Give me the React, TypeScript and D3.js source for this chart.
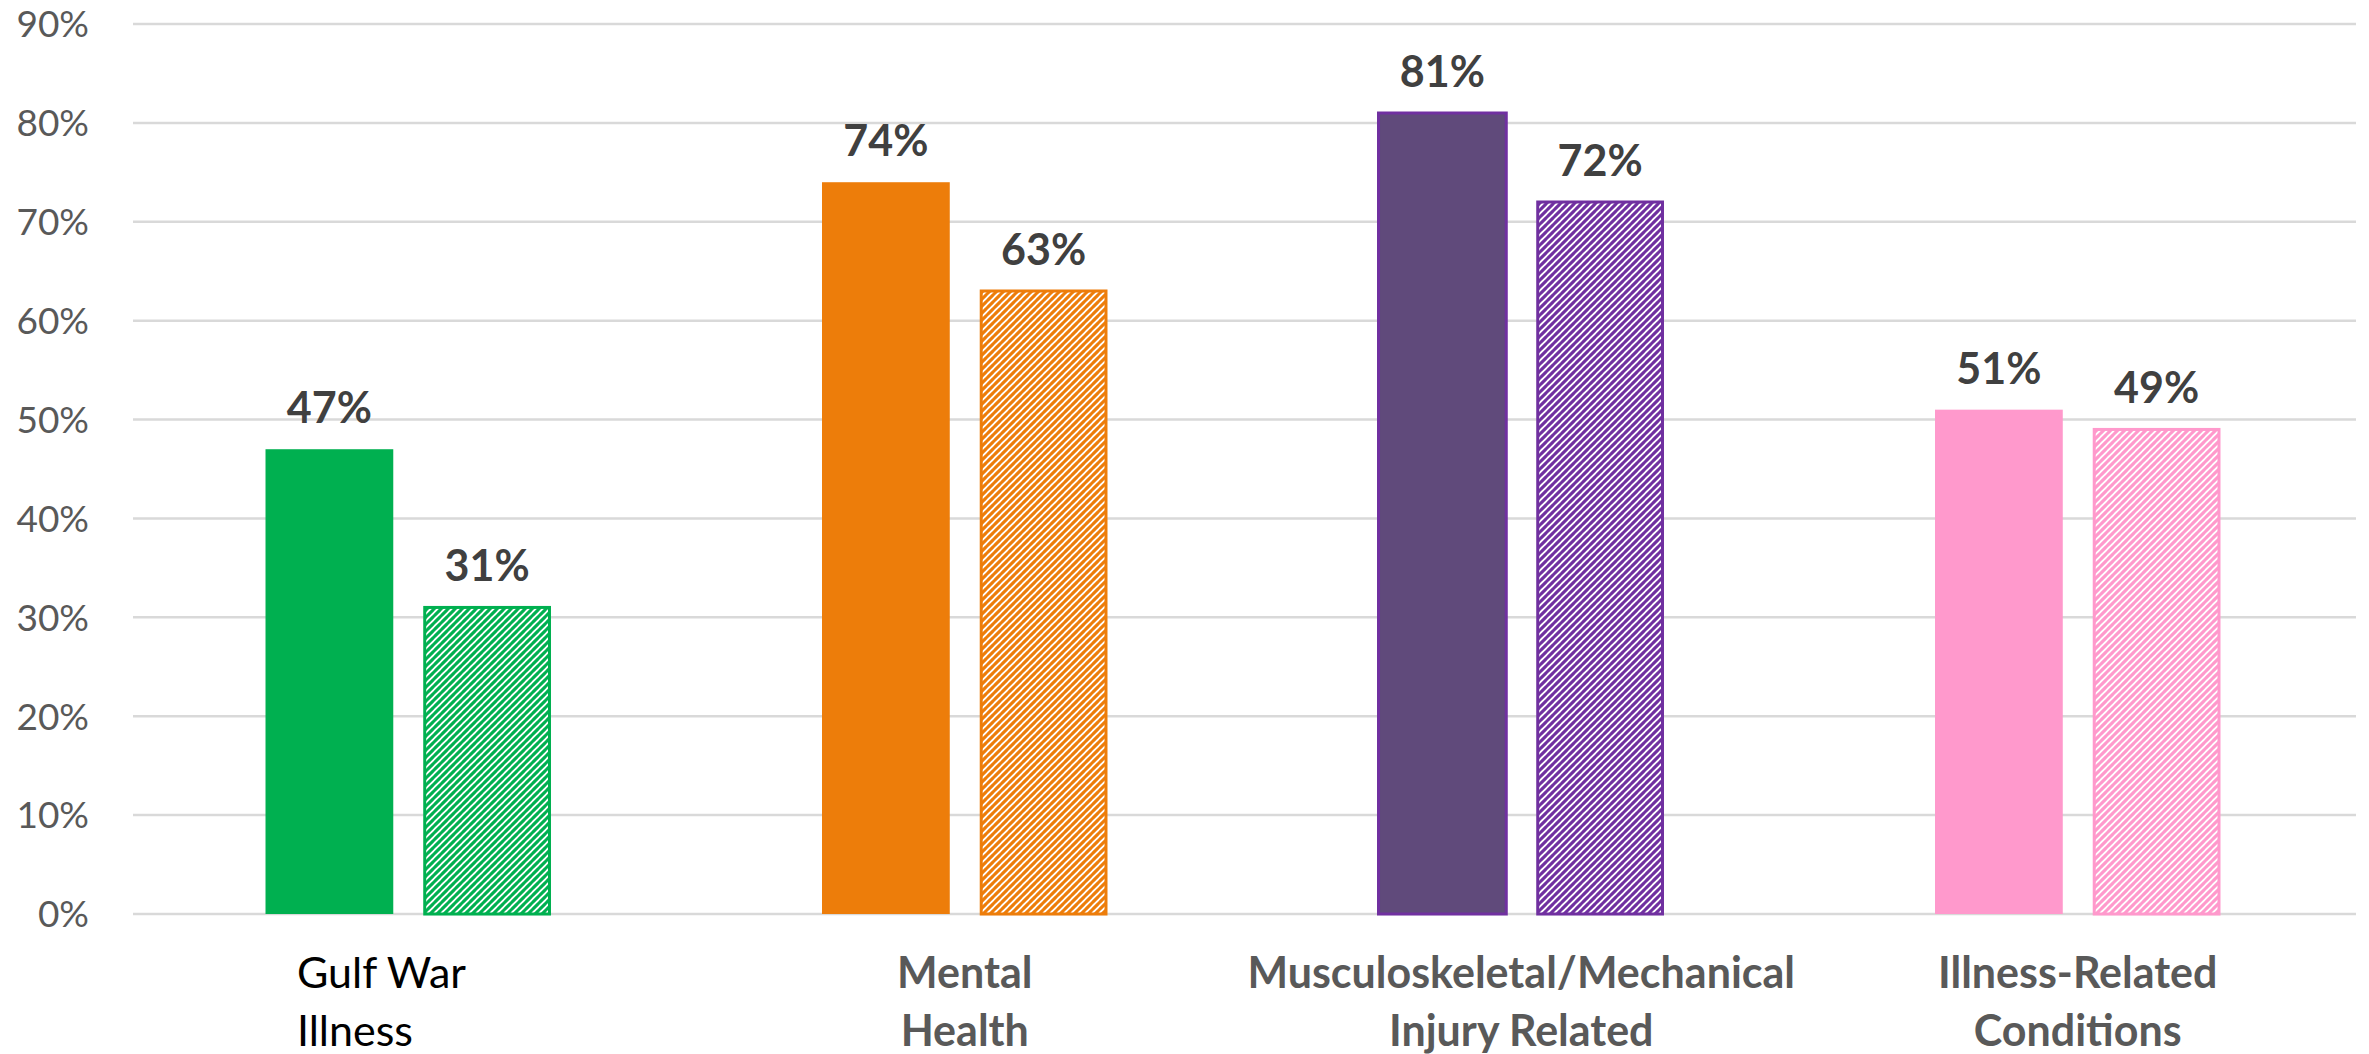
import React from "react";
import * as d3 from "d3";

const categories = ["Gulf War Illness", "Mental Health", "Musculoskeletal/Mechanical Injury Related", "Illness-Related Conditions"];
const categoryLines = [["Gulf War", "Illness"], ["Mental", "Health"], ["Musculoskeletal/Mechanical", "Injury Related"], ["Illness-Related", "Conditions"]];
const seriesA = [47, 74, 81, 51];
const seriesB = [31, 63, 72, 49];
const yTicks = [0, 10, 20, 30, 40, 50, 60, 70, 80, 90];
const fillColors = ["#00B050", "#ED7D0A", "#604A7B", "#FF99CC"];
const lineColors = ["#00B050", "#ED7D0A", "#7030A0", "#FF99CC"];

const W = 2369;
const H = 1054;

export default function App() {
  const y = d3.scaleLinear().domain([0, 90]).range([914, 24]);
  const x0 = d3.scaleBand<string>().domain(categories).range([130, 2356]).paddingInner(0.487).paddingOuter(0.2435);
  const x1 = d3.scaleBand<string>().domain(["a", "b"]).range([0, x0.bandwidth()]).paddingInner(0.19);
  const fmt = (v: number) => `${v}%`;

  return (
    <svg width={W} height={H} style={{ position: "absolute", left: 0, top: 0, background: "#fff" }}>
      <defs>
        {lineColors.map((c, i) => (
          <pattern key={i} id={`hatch${i}`} patternUnits="userSpaceOnUse" width={7} height={7}>
            <rect width={7} height={7} fill="#fff" />
            <path d="M-1,1 l2,-2 M0,7 l7,-7 M6,8 l2,-2" stroke={c} strokeWidth={3.1} />
          </pattern>
        ))}
      </defs>
      {yTicks.map((t) => (
        <g key={t}>
          <line x1={133} x2={2356} y1={y(t)} y2={y(t)} stroke="#D9D9D9" strokeWidth={2.5} />
          <text x={89} y={y(t)} dy="0.36em" textAnchor="end" fontFamily="Lato, 'Open Sans', sans-serif" fontSize={37} fill="#595959">
            {fmt(t)}
          </text>
        </g>
      ))}
      {categories.map((cat, i) => {
        const gx = x0(cat)!;
        const ax = gx + x1("a")!;
        const bx = gx + x1("b")!;
        const bw = x1.bandwidth();
        const isFirst = i === 0;
        return (
          <g key={cat}>
            <rect x={ax} y={y(seriesA[i])} width={bw} height={y(0) - y(seriesA[i])} fill={fillColors[i]} stroke={lineColors[i]} strokeWidth={i === 2 ? 3 : 0} />
            <rect x={bx + 1.5} y={y(seriesB[i])} width={bw - 3} height={y(0) - y(seriesB[i])} fill={`url(#hatch${i})`} stroke={lineColors[i]} strokeWidth={3} />
            <text x={ax + bw / 2} y={y(seriesA[i]) - 26} textAnchor="middle" fontFamily="Lato, sans-serif" fontWeight={700} fontSize={43} fill="#404040">
              {fmt(seriesA[i])}
            </text>
            <text x={bx + bw / 2} y={y(seriesB[i]) - 26} textAnchor="middle" fontFamily="Lato, sans-serif" fontWeight={700} fontSize={43} fill="#404040">
              {fmt(seriesB[i])}
            </text>
            {categoryLines[i].map((line, k) => (
              <text
                key={k}
                x={isFirst ? 297 : gx + x0.bandwidth() / 2}
                y={988 + k * 58}
                textAnchor={isFirst ? "start" : "middle"}
                fontFamily="Lato, sans-serif"
                fontWeight={isFirst ? 400 : 700}
                fontSize={43}
                fill={isFirst ? "#000000" : "#595959"}
              >
                {line}
              </text>
            ))}
          </g>
        );
      })}
    </svg>
  );
}
